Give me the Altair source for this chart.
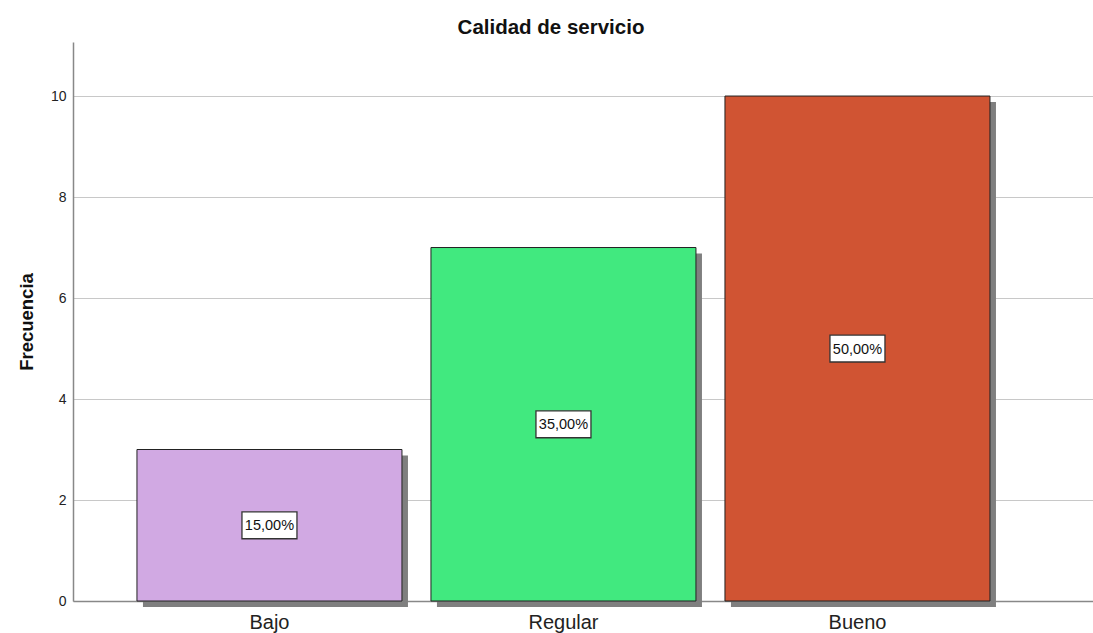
import altair as alt
import pandas as pd

categorias = ["Bajo", "Regular", "Bueno"]
frecuencias = [3, 7, 10]
porcentajes = ["15,00%", "35,00%", "50,00%"]
colores = ["#D1A9E3", "#41E97F", "#D05433"]

df = pd.DataFrame({"cat": categorias, "freq": frecuencias, "pct": porcentajes})
df["mid"] = df["freq"] / 2

FONT = "Liberation Sans"

x_enc = alt.X("cat:N", sort=categorias, title=None,
              scale=alt.Scale(paddingInner=0.0986, paddingOuter=0.284, align=0.383),
              axis=alt.Axis(labelAngle=0, labelFontSize=20, labelColor="#222", labelFont=FONT,
                            ticks=False, grid=False, labelPadding=11, domainColor="#888",
                            domainWidth=1.5))
y_scale = alt.Scale(domain=[0, 11.07], nice=False)

base = alt.Chart(df)

shadow = base.mark_bar(color="#7F7F7F", xOffset=6, yOffset=6).encode(
    x=x_enc,
    y=alt.Y("freq:Q", scale=y_scale),
)

bars = base.mark_bar(stroke="#222", strokeWidth=1).encode(
    x=x_enc,
    y=alt.Y("freq:Q", scale=y_scale, title="Frecuencia",
            axis=alt.Axis(values=[0, 2, 4, 6, 8, 10], ticks=False, grid=True,
                          labelFontSize=14, labelFont=FONT,
                          labelColor="#222", labelPadding=7, domainColor="#888", domainWidth=1.5,
                          gridColor="#C8C8C8", gridWidth=1.2,
                          titleFontSize=18.5, titleFont=FONT, titleFontWeight="bold",
                          titleColor="#111", titlePadding=14)),
    color=alt.Color("cat:N", scale=alt.Scale(domain=categorias, range=colores), legend=None),
)

box_path = "M-1,-0.49 L1,-0.49 L1,0.49 L-1,0.49 Z"
boxes = base.mark_point(shape=box_path, size=3025, fill="white", fillOpacity=1,
                        stroke="#333", strokeWidth=1.3, opacity=1).encode(
    x=x_enc,
    y=alt.Y("mid:Q", scale=y_scale),
)

labels = base.mark_text(fontSize=14.5, font=FONT, color="#111", dy=1).encode(
    x=x_enc,
    y=alt.Y("mid:Q", scale=y_scale),
    text="pct:N",
)

chart = alt.layer(shadow, bars, boxes, labels).properties(
    width=1020, height=559,
    title=alt.TitleParams("Calidad de servicio", fontSize=20.5, font=FONT, fontWeight="bold",
                          color="#111", anchor="middle", dx=-32, offset=4),
    autosize=alt.AutoSizeParams(type="none"),
    padding={"left": 73, "top": 42, "right": 0, "bottom": 32},
).configure_view(stroke=None)

chart.save("out.html", embed_options={"renderer": "svg", "actions": False})
